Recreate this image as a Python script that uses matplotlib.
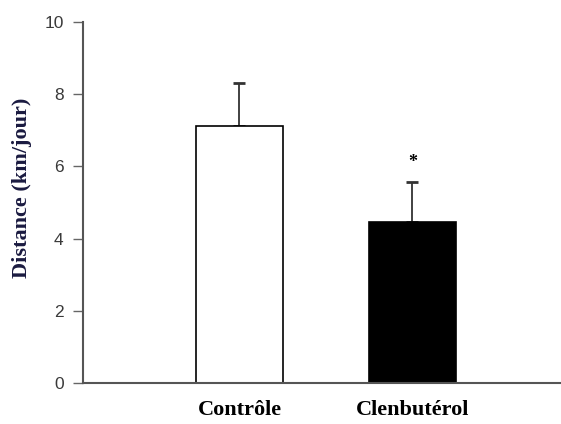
import matplotlib.pyplot as plt

groups = ["Contrôle", "Clenbutérol"]
distance = [7.12, 4.46]
sem = [1.19, 1.11]
bar_colors = ["white", "black"]

fig = plt.figure(figsize=(5.61, 4.24), dpi=100)
ax = fig.add_axes([83 / 561, 1 - 383 / 424, 1 - 83 / 561, (383 - 22) / 424])

x = [1, 2]
ax.bar(x, distance, width=0.503, color=bar_colors, edgecolor="black", linewidth=1.2, zorder=2)
ax.errorbar(x, distance, yerr=[[0, 0], sem], fmt="none", ecolor="#333333",
            elinewidth=1.3, capsize=4, capthick=2, zorder=1)

# significance mark
ax.text(x[1], distance[1] + sem[1] + 0.55, "*", ha="center", va="center",
        fontsize=13, fontweight="bold", family="Liberation Serif")

ax.set_xlim(0.095, 2.86)
ax.set_ylim(0, 10)
ax.set_yticks([0, 2, 4, 6, 8, 10])
ax.set_xticks(x)
ax.set_xticklabels(groups, fontsize=16, fontweight="bold", family="Liberation Serif")
ax.tick_params(axis="x", length=0, pad=12)
ax.tick_params(axis="y", length=7, width=1, color="#666666", labelsize=12.5,
               labelcolor="#3a3a3a", pad=7)
for lbl in ax.get_yticklabels():
    lbl.set_family("Liberation Sans")

ax.spines["top"].set_visible(False)
ax.spines["right"].set_visible(False)
ax.spines["left"].set_color("#555555")
ax.spines["bottom"].set_color("#555555")
ax.spines["left"].set_linewidth(1.5)
ax.spines["bottom"].set_linewidth(1.5)

ax.set_ylabel("Distance (km/jour)", fontsize=16, fontweight="bold",
              family="Liberation Serif", color="#1a1a40")
ax.yaxis.set_label_coords(-0.107, 0.54)

fig.savefig("out.png", dpi=100)
